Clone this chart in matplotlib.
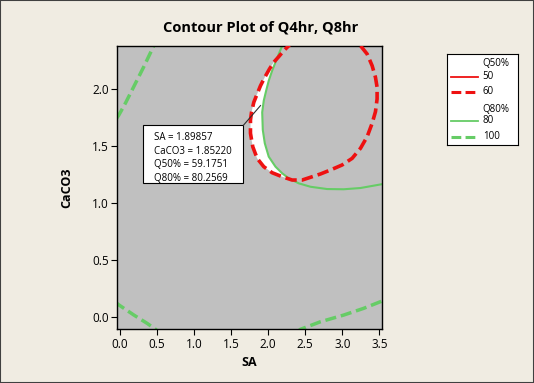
import matplotlib
matplotlib.use("Agg")
import matplotlib.pyplot as plt
from matplotlib.patches import Rectangle, Polygon
from matplotlib.lines import Line2D

# ---- data ----
# Q50% = 60 contour (red dashed)
q50_60_x = [2.33, 2.279, 2.211, 2.144, 2.077, 2.019, 1.956, 1.898, 1.853, 1.808, 1.777, 1.763,
            1.763, 1.794, 1.853, 1.942, 2.055, 2.190, 2.324, 2.459, 2.594, 2.705, 2.840,
            2.997, 3.132, 3.244, 3.334, 3.401, 3.446, 3.468, 3.468, 3.446, 3.401, 3.334,
            3.244, 3.20]
q50_60_y = [2.42, 2.377, 2.333, 2.281, 2.232, 2.173, 2.100, 2.026, 1.954, 1.881, 1.793, 1.725,
            1.609, 1.491, 1.389, 1.316, 1.263, 1.228, 1.199, 1.199, 1.228, 1.252, 1.287,
            1.331, 1.389, 1.477, 1.579, 1.696, 1.798, 1.910, 2.012, 2.100, 2.202, 2.304,
            2.377, 2.42]

# Q80% = 80 contour (green solid)
q80_80_x = [2.215, 2.190, 2.144, 2.100, 2.055, 2.009, 1.974, 1.942, 1.921, 1.929, 1.956,
            2.009, 2.100, 2.190, 2.279, 2.413, 2.571, 2.795, 3.019, 3.244, 3.468, 3.60]
q80_80_y = [2.42, 2.377, 2.304, 2.232, 2.158, 2.070, 1.982, 1.895, 1.793, 1.638, 1.521,
            1.404, 1.316, 1.258, 1.214, 1.170, 1.140, 1.120, 1.118, 1.129, 1.155, 1.17]

# Q80% = 100 contour (green dashed), three pieces
q80_100a_x = [0.52, 0.462, 0.327, 0.192, 0.081, -0.009, -0.06]
q80_100a_y = [2.45, 2.377, 2.193, 2.018, 1.875, 1.769, 1.72]
q80_100b_x = [-0.06, 0.0, 0.193, 0.372, 0.485, 0.53]
q80_100b_y = [0.13, 0.10, 0.015, -0.058, -0.11, -0.14]
q80_100c_x = [2.38, 2.436, 2.705, 3.019, 3.288, 3.513, 3.58]
q80_100c_y = [-0.14, -0.11, -0.044, 0.015, 0.074, 0.132, 0.15]

# where the two contours cross (ends of the white feasible region)
cross_top = (2.125, 2.262)
cross_bot = (2.255, 1.215)

sa_val = 1.89857
caco3_val = 1.85220
q50_val = 59.1751
q80_val = 80.2569

x_ticks = [0.0, 0.5, 1.0, 1.5, 2.0, 2.5, 3.0, 3.5]
y_ticks = [0.0, 0.5, 1.0, 1.5, 2.0]

# ---- styling ----
W, H = 534, 383
fig = plt.figure(figsize=(W / 100, H / 100), dpi=100)
fig.patch.set_facecolor("#F0ECE2")
fig.patches.append(Rectangle((0, 0), 1, 1, transform=fig.transFigure, fill=False,
                             edgecolor="#404040", lw=1.5))

RED = "#EE1111"
GREEN = "#66CC66"
FONT = ["Open Sans", "DejaVu Sans"]
DASH = (0, (3.2, 1.4))

ax = fig.add_axes([117.3 / W, 1 - 329.3 / H, (381.7 - 117.3) / W, (329.3 - 45.7) / H])
ax.set_facecolor("#C0C0C0")
ax.set_xlim(-0.03, 3.53)
ax.set_ylim(-0.11, 2.377)

# white feasible region: red contour (left) between the crossings, green contour back up
red_seg = [(x, y) for x, y in zip(q50_60_x, q50_60_y)
           if cross_bot[1] + 0.01 < y < cross_top[1] and x < 2.2]
grn_seg = [(x, y) for x, y in zip(q80_80_x, q80_80_y)
           if cross_bot[1] + 0.02 < y < cross_top[1]]
poly = [cross_top] + red_seg + [cross_bot] + grn_seg[::-1]
ax.add_patch(Polygon(poly, closed=True, facecolor="white", edgecolor="none", zorder=1))

ax.plot(q80_80_x, q80_80_y, color=GREEN, lw=1.5, zorder=2)
for xs, ys in [(q80_100a_x, q80_100a_y), (q80_100b_x, q80_100b_y), (q80_100c_x, q80_100c_y)]:
    ax.plot(xs, ys, color=GREEN, lw=2.5, ls=DASH, zorder=2)
ax.plot(q50_60_x, q50_60_y, color=RED, lw=2.6, ls=DASH, zorder=3)

ax.set_xticks(x_ticks)
ax.set_yticks(y_ticks)
ax.set_xticklabels([f"{v:.1f}" for v in x_ticks], fontsize=8.5, family=FONT)
ax.set_yticklabels([f"{v:.1f}" for v in y_ticks], fontsize=8.5, family=FONT)
ax.tick_params(direction="out", length=4, width=0.8, color="black", pad=2)
for s in ax.spines.values():
    s.set_color("black")
    s.set_linewidth(1.0)

ax.set_xlabel("SA", fontsize=9, fontweight="bold", family=FONT, labelpad=4)
ax.set_ylabel("CaCO3", fontsize=9, fontweight="bold", family=FONT, labelpad=14)

fig.text(261 / W, 1 - 28 / H, "Contour Plot of Q4hr, Q8hr", ha="center", va="center",
         fontsize=10.5, fontweight="bold", family=FONT)

# annotation box
bx0, bx1 = 0.319, 1.669
by0, by1 = 1.17, 1.68
ax.add_patch(Rectangle((bx0, by0), bx1 - bx0, by1 - by0, facecolor="white",
                       edgecolor="black", lw=0.8, zorder=5))
ax.plot([bx1, sa_val], [by1, caco3_val], color="#303030", lw=0.8, zorder=5)
lines = [f"SA = {sa_val:.5f}", f"CaCO3 = {caco3_val:.5f}",
         f"Q50% = {q50_val:.4f}", f"Q80% = {q80_val:.4f}"]
for i, t in enumerate(lines):
    ax.text(0.46, 1.57 - i * 0.118, t, fontsize=7, family=FONT, va="center", ha="left",
            zorder=6)

# legend box
lax = fig.add_axes([446.7 / W, 1 - 145 / H, 71 / W, 91 / H])
lax.set_xlim(0, 71)
lax.set_ylim(91, 0)
lax.set_xticks([])
lax.set_yticks([])
lax.set_facecolor("white")
for s in lax.spines.values():
    s.set_linewidth(0.8)
    s.set_color("black")
entries = [("Q50%", None, None, 9), ("50", RED, "-", 22.7), ("60", RED, "--", 37.7),
           ("Q80%", None, None, 55), ("80", GREEN, "-", 66.7), ("100", GREEN, "--", 82.7)]
for label, col, ls, yy in entries:
    if col is not None:
        lsx = DASH if ls == "--" else "-"
        lax.add_line(Line2D([4, 31], [yy, yy], color=col, lw=2.2 if ls == "--" else 1.3,
                            ls=lsx))
    lax.text(36, yy, label, fontsize=7, family=FONT, va="center", ha="left")

fig.savefig("out.png", dpi=100, facecolor=fig.get_facecolor())
